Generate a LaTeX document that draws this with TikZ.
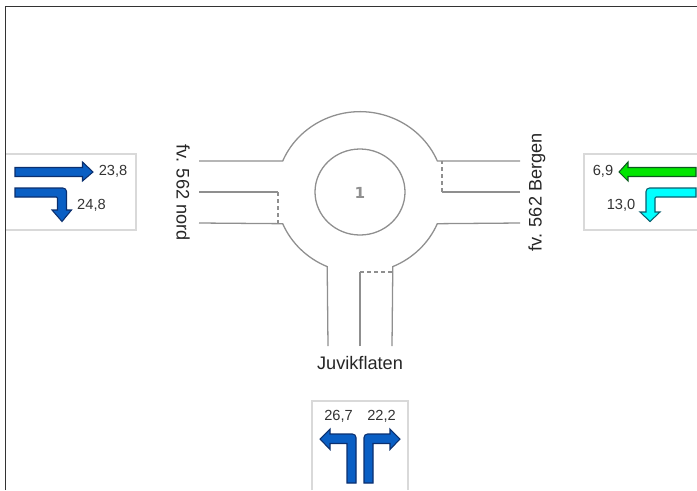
\documentclass[tikz,border=0pt]{standalone}
\usepackage{fontspec}
\setmainfont{Liberation Sans}
\newfontfamily\numfont{DejaVu Sans}
\usepackage{xcolor}
\definecolor{roadgray}{HTML}{8F8F8F}
\definecolor{boxgray}{HTML}{D9D9D9}
\definecolor{textgray}{HTML}{333333}
\definecolor{laneblue}{HTML}{0A5FC4}
\definecolor{lanebluedark}{HTML}{0B2F6E}
\definecolor{lanegreen}{HTML}{00E600}
\definecolor{lanegreendark}{HTML}{0B5A1E}
\definecolor{lanecyan}{HTML}{00FFFF}
\definecolor{lanecyandark}{HTML}{0B5F6E}

\begin{document}
\begin{tikzpicture}[
    x=0.03cm, y=-0.03cm,
    roadline/.style={draw=roadgray, line width=1.1pt},
    stopline/.style={draw=roadgray, line width=1.4pt, dash pattern=on 3pt off 3pt},
    countbox/.style={draw=boxgray, line width=0.9pt},
    lanearrow/.style n args={2}{draw=#2, fill=#1, line width=0.9pt, line join=miter},
    count/.style={font=\fontsize{12.5}{14}\selectfont, text=textgray, inner sep=0pt},
    roadname/.style={font=\fontsize{15.5}{18}\selectfont, text=black!85, inner sep=0pt},
]
\useasboundingbox (0,0) rectangle (697,490);

% Frame
\draw[line width=1pt, color=black!80] (5.5,490) -- (5.5,6.5) -- (697,6.5);

% Roundabout
\draw[roadline] (360,192) ellipse[x radius=45, y radius=43];
\node[font=\numfont\bfseries\fontsize{13}{15}\selectfont, text=roadgray, inner sep=0pt] (island) at (360,193) {1};

\draw[roadline] (199,161) -- (282.7,161) arc[start angle=203, end angle=337, x radius=84, y radius=81] -- (520,161);
\draw[roadline] (328,346) -- (327.2,266.6) arc[start angle=113, end angle=157, x radius=84, y radius=81] -- (199,223);
\draw[roadline] (392,346) -- (392.8,266.6) arc[start angle=67, end angle=23, x radius=84, y radius=81] -- (520,223);

% Lane dividers
\draw[roadline] (199,192) -- (278,192);
\draw[stopline] (278,192) -- (278,223);
\draw[roadline] (520,192) -- (442,192);
\draw[stopline] (442,192) -- (442,161);
\draw[roadline] (360,346) -- (360,272);
\draw[stopline] (360,272) -- (392,272);

% Road names
\node[roadname, rotate=-90] (nord) at (183,192.5) {fv. 562 nord};
\node[roadname, rotate=90] (bergen) at (537,192.5) {fv. 562 Bergen};
\node[roadname] (juvik) at (360,363) {Juvikflaten};

% Left counts
\draw[countbox] (6,154) -- (136,154) -- (136,230) -- (6,230);
\draw[lanearrow={laneblue}{lanebluedark}] (15,167.5) -- (82.5,167.5) -- (82.5,162) -- (93,172) -- (82.5,181) -- (82.5,176.5) -- (15,176.5) -- cycle;
\draw[lanearrow={laneblue}{lanebluedark}] (15,188) [rounded corners=3pt] -- (66.5,188) [sharp corners] -- (66.5,210) -- (71.5,210) -- (62,221.5) -- (52,210) -- (57.5,210) [rounded corners=1pt] -- (57.5,197) [sharp corners] -- (15,197) -- cycle;
\node[count] (leftthrough) at (113,171.5) {23,8};
\node[count] (leftturn) at (91.5,205) {24,8};

% Right counts
\draw[countbox] (697,154) -- (584,154) -- (584,230) -- (697,230);
\draw[lanearrow={lanegreen}{lanegreendark}] (696,167.5) -- (628,167.5) -- (628,162) -- (619,172) -- (628,181) -- (628,176.5) -- (696,176.5) -- cycle;
\draw[lanearrow={lanecyan}{lanecyandark}] (696,188) [rounded corners=3pt] -- (646,188) [sharp corners] -- (646,212) -- (640,212) -- (650,221.5) -- (660,212) -- (655,212) [rounded corners=1pt] -- (655,197) [sharp corners] -- (696,197) -- cycle;
\node[count] (rightthrough) at (603,171.5) {6,9};
\node[count] (rightturn) at (621,205) {13,0};

% Bottom counts
\draw[countbox] (312,490) -- (312,401) -- (408,401) -- (408,490);
\draw[lanearrow={laneblue}{lanebluedark}] (356,483) [rounded corners=3pt] -- (356,434) [sharp corners] -- (330,434) -- (330,429) -- (320,439) -- (330,449.5) -- (330,443.5) -- (347,443.5) -- (347,483) -- cycle;
\draw[lanearrow={laneblue}{lanebluedark}] (364,483) [rounded corners=3pt] -- (364,434) [sharp corners] -- (390,434) -- (390,429) -- (400,439) -- (390,449.5) -- (390,443.5) -- (373,443.5) -- (373,483) -- cycle;
\node[count] (bottomleft) at (338.5,416.5) {26,7};
\node[count] (bottomright) at (381.5,416.5) {22,2};
\end{tikzpicture}
\end{document}
